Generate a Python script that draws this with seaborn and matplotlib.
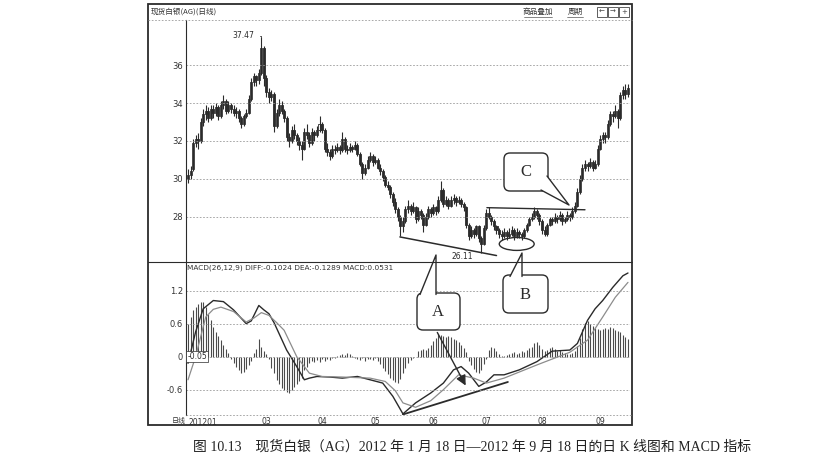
# 现货白银 日K线 + MACD
import numpy as np
import pandas as pd
import matplotlib
matplotlib.use("Agg")
import matplotlib.pyplot as plt
import seaborn as sns
from matplotlib.patches import FancyBboxPatch, Ellipse, Polygon, Rectangle

sns.set_theme(style="white")
plt.rcParams["font.family"] = ["Noto Sans CJK SC", "DejaVu Sans"]
plt.rcParams["axes.unicode_minus"] = False

# 交易日 2012-01-18 ~ 2012-09-18
dates = pd.bdate_range("2012-01-18", "2012-09-18")

open_ = [
    30.0, 30.2, 30.5, 31.9, 32.1, 32.0, 33.0, 33.4, 33.6, 33.2,
    33.7, 33.5, 33.8, 33.3, 33.9, 34.1, 33.6, 33.9, 33.7, 33.5,
    33.6, 33.2, 32.9, 33.3, 33.5, 34.2, 35.1, 35.4, 35.2, 35.6,
    36.9, 35.3, 34.6, 34.3, 34.5, 32.8, 33.5, 33.9, 33.6, 33.2,
    32.2, 32.0, 32.6, 32.3, 32.0, 31.8, 31.6, 32.5, 32.3, 31.9,
    32.5, 32.3, 32.6, 32.9, 32.6, 31.6, 31.4, 31.2, 31.6, 31.5,
    31.7, 31.5, 32.1, 31.6, 31.5, 31.7, 31.6, 31.8, 31.3, 30.8,
    30.3, 30.6, 31.0, 31.2, 30.9, 31.0, 30.6, 30.4, 30.1, 29.7,
    29.6, 29.2, 28.8, 28.4, 28.0, 27.5, 27.8, 28.4, 28.6, 28.3,
    28.5, 27.9, 28.3, 28.1, 27.6, 28.0, 28.4, 28.2, 28.5, 28.3,
    28.9, 29.4, 28.7, 28.9, 28.6, 28.9, 29.0, 28.8, 28.9, 28.7,
    28.5, 27.6, 27.0, 27.3, 27.1, 27.5, 26.9, 26.6, 27.4, 28.2,
    28.0, 27.8, 27.5, 27.3, 27.1, 27.0, 27.2, 27.0, 27.1, 27.3,
    27.0, 27.2, 27.1, 27.0, 27.3, 27.6, 27.9, 28.0, 28.3, 28.1,
    27.8, 27.3, 27.1, 27.6, 27.9, 27.8, 28.0, 27.9, 28.1, 27.8,
    27.9, 28.1, 28.0, 28.3, 28.6, 29.3, 30.0, 30.6, 30.8, 30.7,
    30.9, 30.6, 30.8, 31.6, 32.1, 32.3, 32.2, 32.9, 33.4, 33.3,
    33.6, 33.2, 34.4, 34.7, 34.5,
]
high = [
    30.5, 30.7, 32.1, 32.3, 32.4, 33.2, 33.7, 33.9, 33.8, 33.9,
    33.9, 34.0, 33.9, 34.1, 34.4, 34.2, 34.1, 34.0, 33.9, 33.8,
    33.7, 33.3, 33.4, 33.7, 34.4, 35.3, 35.6, 35.5, 35.8, 37.47,
    37.0, 35.5, 34.8, 34.7, 34.6, 33.7, 34.2, 34.1, 33.7, 33.3,
    32.4, 32.8, 32.9, 32.4, 32.2, 32.0, 32.7, 32.9, 32.5, 32.7,
    32.6, 32.8, 33.3, 33.0, 32.7, 31.9, 31.6, 31.8, 31.8, 31.9,
    31.8, 32.5, 32.2, 31.8, 31.9, 31.8, 32.0, 31.9, 31.4, 30.9,
    30.8, 31.2, 31.4, 31.3, 31.2, 31.1, 30.8, 30.5, 30.2, 29.9,
    29.7, 29.3, 29.0, 28.5, 28.1, 28.0, 28.6, 28.9, 28.7, 28.8,
    28.6, 28.5, 28.4, 28.2, 28.2, 28.6, 28.5, 28.7, 28.6, 29.1,
    29.9, 29.5, 29.1, 29.0, 29.1, 29.2, 29.1, 29.1, 29.0, 28.8,
    28.6, 27.7, 27.5, 27.4, 27.6, 27.6, 27.0, 27.6, 28.4, 28.5,
    28.1, 27.9, 27.6, 27.4, 27.3, 27.4, 27.3, 27.4, 27.5, 27.4,
    27.4, 27.3, 27.2, 27.4, 27.7, 28.0, 28.2, 28.5, 28.4, 28.2,
    27.9, 27.5, 27.7, 28.0, 28.0, 28.2, 28.1, 28.3, 28.2, 28.0,
    28.3, 28.2, 28.5, 28.8, 29.5, 30.2, 30.8, 31.0, 30.9, 31.1,
    31.0, 31.0, 31.8, 32.3, 32.5, 32.5, 33.1, 33.6, 33.6, 33.9,
    33.7, 34.6, 34.9, 35.0, 35.0,
]
low = [
    29.8, 30.0, 30.4, 31.7, 31.6, 31.9, 32.8, 33.1, 33.0, 33.1,
    33.2, 33.3, 33.1, 33.2, 33.7, 33.4, 33.5, 33.5, 33.3, 33.2,
    33.0, 32.7, 32.8, 33.2, 33.4, 34.1, 34.9, 34.9, 35.0, 35.5,
    34.9, 34.3, 34.0, 34.1, 32.5, 32.7, 33.3, 33.4, 33.0, 32.0,
    31.7, 31.9, 32.1, 31.8, 31.5, 31.0, 31.5, 32.1, 31.7, 31.8,
    32.0, 32.2, 32.5, 32.4, 31.4, 31.2, 31.0, 31.1, 31.3, 31.4,
    31.3, 31.4, 31.4, 31.3, 31.4, 31.4, 31.5, 31.2, 30.7, 30.0,
    30.2, 30.5, 30.9, 30.7, 30.8, 30.5, 30.2, 29.9, 29.6, 29.4,
    29.0, 28.6, 28.2, 27.8, 27.0, 27.2, 27.7, 28.2, 28.1, 28.2,
    27.7, 27.8, 27.9, 27.2, 27.5, 27.9, 28.0, 28.1, 28.1, 28.2,
    28.8, 28.5, 28.6, 28.4, 28.5, 28.7, 28.6, 28.7, 28.5, 28.3,
    27.4, 26.8, 26.9, 26.9, 27.0, 26.7, 26.11, 26.5, 27.3, 27.9,
    27.6, 27.3, 27.1, 26.9, 26.8, 26.9, 26.8, 26.9, 27.0, 26.8,
    26.9, 26.9, 26.8, 26.9, 27.2, 27.5, 27.8, 27.9, 27.9, 27.6,
    27.1, 27.0, 27.0, 27.5, 27.6, 27.7, 27.7, 27.8, 27.6, 27.7,
    27.8, 27.8, 27.9, 28.2, 28.5, 29.2, 29.9, 30.4, 30.4, 30.6,
    30.4, 30.5, 30.7, 31.5, 31.9, 31.9, 32.1, 32.8, 33.0, 33.2,
    32.7, 33.1, 34.2, 34.2, 34.3,
]
close = [
    30.2, 30.4, 31.9, 32.1, 32.0, 33.0, 33.4, 33.6, 33.2, 33.7,
    33.5, 33.8, 33.3, 33.9, 34.1, 33.6, 33.9, 33.7, 33.5, 33.6,
    33.2, 32.9, 33.3, 33.5, 34.2, 35.1, 35.4, 35.2, 35.6, 36.9,
    35.3, 34.6, 34.3, 34.5, 32.8, 33.5, 33.9, 33.6, 33.2, 32.2,
    32.0, 32.6, 32.3, 32.0, 31.8, 31.6, 32.5, 32.3, 31.9, 32.5,
    32.3, 32.6, 32.9, 32.6, 31.6, 31.4, 31.2, 31.6, 31.5, 31.7,
    31.5, 32.1, 31.6, 31.5, 31.7, 31.6, 31.8, 31.3, 30.8, 30.3,
    30.6, 31.0, 31.2, 30.9, 31.0, 30.6, 30.4, 30.1, 29.7, 29.6,
    29.2, 28.8, 28.4, 28.0, 27.5, 27.8, 28.4, 28.6, 28.3, 28.5,
    27.9, 28.3, 28.1, 27.6, 28.0, 28.4, 28.2, 28.5, 28.3, 28.9,
    29.4, 28.7, 28.9, 28.6, 28.9, 29.0, 28.8, 28.9, 28.7, 28.5,
    27.6, 27.0, 27.3, 27.1, 27.5, 26.9, 26.6, 27.4, 28.2, 28.0,
    27.8, 27.5, 27.3, 27.1, 27.0, 27.2, 27.0, 27.1, 27.3, 27.0,
    27.2, 27.1, 27.0, 27.3, 27.6, 27.9, 28.0, 28.3, 28.1, 27.8,
    27.3, 27.1, 27.6, 27.9, 27.8, 28.0, 27.9, 28.1, 27.8, 27.9,
    28.1, 28.0, 28.3, 28.6, 29.3, 30.0, 30.6, 30.8, 30.7, 30.9,
    30.6, 30.8, 31.6, 32.1, 32.3, 32.2, 32.9, 33.4, 33.3, 33.6,
    33.2, 34.4, 34.7, 34.5, 34.8,
]

# MACD 柱
macd_bar = [
    0.60, 0.72, 0.84, 0.90, 0.96, 0.99, 1.00, 0.90,
    0.78, 0.66, 0.54, 0.45, 0.38, 0.30, 0.22, 0.14, 0.06,
    -0.05, -0.12, -0.18, -0.24, -0.30, -0.28, -0.22, -0.15, -0.08,
    0.06, 0.14, 0.33, 0.18, 0.10, 0.04,
    -0.05, -0.20, -0.30, -0.42, -0.50, -0.57, -0.60, -0.64, -0.66, -0.60, -0.55, -0.50, -0.44, -0.38,
    -0.25, -0.18, -0.12, -0.08, -0.10, -0.06, -0.09, -0.05, -0.07, -0.04, -0.06, -0.03, -0.02,
    0.02, 0.03, 0.05, 0.03, 0.06, 0.04, 0.02, -0.02,
    -0.04, -0.06, -0.03, -0.08, -0.05, -0.04, -0.06, -0.03,
    -0.08, -0.14, -0.20, -0.26, -0.32, -0.38, -0.42, -0.46, -0.48, -0.40, -0.30,
    -0.20, -0.12, -0.06, -0.02, 0.00,
    0.10, 0.12, 0.14, 0.12, 0.16, 0.22, 0.28, 0.34, 0.42, 0.40,
    0.38, 0.36, 0.37, 0.35, 0.32, 0.30, 0.26, 0.22, 0.16, 0.08,
    -0.08, -0.16, -0.22, -0.28, -0.30, -0.24, -0.14, -0.05,
    0.12, 0.18, 0.16, 0.10, 0.04, 0.02,
    0.02, 0.03, 0.05, 0.06, 0.08, 0.05, 0.07, 0.10, 0.08, 0.12,
    0.15, 0.18, 0.24, 0.27, 0.22, 0.14, 0.10, 0.12, 0.16, 0.18,
    0.14, 0.10, 0.12, 0.08, 0.06, 0.05, 0.04, 0.06, 0.10, 0.20,
    0.34, 0.50, 0.62, 0.64, 0.60, 0.56, 0.52, 0.50, 0.48, 0.50,
    0.52, 0.50, 0.54, 0.52, 0.48, 0.46, 0.44, 0.40, 0.36, 0.32,
]

# DIFF / DEA (读点)
diff_day = [0, 3, 6, 10, 14, 18, 21, 23, 25, 28, 30, 32, 34, 36, 39, 43, 46, 48, 51, 56,
            61, 67, 72, 77, 81, 85, 90, 96, 101, 105, 108, 111, 115, 118, 121, 125, 131,
            138, 144, 151, 154, 158, 161, 164, 168, 172, 174]
diff_val = [-0.12, 0.45, 0.87, 1.02, 1.00, 0.85, 0.70, 0.60, 0.65, 0.93, 0.85, 0.78, 0.62,
            0.42, 0.12, -0.18, -0.42, -0.39, -0.36, -0.37, -0.39, -0.36, -0.42, -0.48, -0.72,
            -1.04, -0.84, -0.66, -0.48, -0.24, -0.18, -0.30, -0.54, -0.46, -0.33, -0.33, -0.24,
            -0.09, 0.10, 0.12, 0.24, 0.66, 0.87, 1.02, 1.26, 1.47, 1.52]
dea_day = [0, 3, 7, 10, 13, 18, 23, 26, 29, 32, 35, 38, 43, 48, 53, 61, 72, 78, 82, 85,
           90, 96, 101, 107, 113, 118, 125, 138, 151, 158, 164, 169, 174]
dea_val = [-0.42, 0.00, 0.72, 0.86, 0.90, 0.82, 0.63, 0.70, 0.80, 0.75, 0.62, 0.48, 0.00,
           -0.30, -0.36, -0.37, -0.39, -0.45, -0.62, -0.84, -0.92, -0.80, -0.60, -0.33, -0.39,
           -0.48, -0.39, -0.15, 0.08, 0.30, 0.72, 1.08, 1.35]

price_ticks = [28, 30, 32, 34, 36]
macd_ticks = [-0.6, 0, 0.6, 1.2]
caption = "图 10.13　现货白银（AG）2012 年 1 月 18 日—2012 年 9 月 18 日的日 K 线图和 MACD 指标"

df = pd.DataFrame({"open": open_, "high": high, "low": low, "close": close, "macd": macd_bar})
df["day"] = np.arange(len(dates))
df["up"] = df["close"] >= df["open"]

W, H = 823, 467
fig = plt.figure(figsize=(W / 100, H / 100), dpi=100)
fig.patch.set_facecolor("white")


def box(l, t, r, b):
    return [l / W, 1 - b / H, (r - l) / W, (b - t) / H]


ink = "#2b2b2b"
grid_kw = dict(color="#9a9a9a", lw=0.6, ls=(0, (2, 2)))
xlim = (-0.8, 174.8)

# ---- K线 ----
ax1 = fig.add_axes(box(186, 20, 630, 262))
ax1.set_facecolor("white")
ax1.vlines(df["day"], df["low"], df["high"], color=ink, lw=0.8)
body_lo = np.minimum(df["open"], df["close"])
body_h = np.maximum(np.abs(df["close"] - df["open"]), 0.05)
up = df["up"].values
ax1.bar(df["day"][up], body_h[up], bottom=body_lo[up], width=0.8,
        color="white", edgecolor=ink, linewidth=0.6)
ax1.bar(df["day"][~up], body_h[~up], bottom=body_lo[~up], width=0.8,
        color=ink, edgecolor=ink, linewidth=0.6)
ax1.set_xlim(*xlim)
ax1.set_ylim(25.63, 38.37)
ax1.set_yticks(price_ticks)
ax1.set_yticklabels([str(t) for t in price_ticks], fontsize=6, color="#333333",
                    family="DejaVu Sans")
ax1.tick_params(axis="y", length=0, pad=2)
ax1.set_xticks([])
for y in price_ticks:
    ax1.axhline(y, **grid_kw)
for s in ["top", "right", "bottom"]:
    ax1.spines[s].set_visible(False)
ax1.spines["left"].set_color(ink)
ax1.spines["left"].set_linewidth(0.8)

# 最高点 / 最低点
ax1.annotate("37.47", xy=(29, 37.47), xytext=(-5, 1), textcoords="offset points",
             ha="right", va="center", fontsize=5.5, color=ink, family="DejaVu Sans",
             arrowprops=dict(arrowstyle="-", color=ink, lw=0.6,
                             connectionstyle="angle,angleA=0,angleB=90"))
ax1.annotate("26.11", xy=(116, 26.11), xytext=(-14, -2.5), textcoords="offset points",
             ha="center", va="center", fontsize=5.5, color=ink, family="DejaVu Sans")

# 趋势线
ax1.plot([83.8, 122], [26.95, 25.97], color=ink, lw=1.1, clip_on=False)
ax1.plot([118.2, 157], [28.49, 28.38], color=ink, lw=1.0)
ax1.add_patch(Ellipse((130, 26.58), 13.8, 0.68, fill=False, edgecolor=ink, lw=1.0))

# ---- MACD ----
ax2 = fig.add_axes(box(186, 262, 630, 415))
ax2.set_facecolor("white")
ax2.vlines(df["day"], 0, df["macd"], color="#4a4a4a", lw=0.8)
sns.lineplot(x=diff_day, y=diff_val, ax=ax2, color="#2a2a2a", lw=1.0, sort=False)
sns.lineplot(x=dea_day, y=dea_val, ax=ax2, color="#8c8c8c", lw=0.9, sort=False)
ax2.plot([85, 126.5], [-1.05, -0.46], color=ink, lw=1.3)
ax2.set_xlim(*xlim)
ax2.set_ylim(-1.06, 1.72)
ax2.set_yticks(macd_ticks)
ax2.set_yticklabels(["-0.6", "0", "0.6", "1.2"], fontsize=6, color="#333333",
                    family="DejaVu Sans")
ax2.tick_params(axis="y", length=0, pad=2)
for y in macd_ticks + [1.72]:
    ax2.axhline(y, **grid_kw)
for s in ["top", "right", "bottom"]:
    ax2.spines[s].set_visible(False)
ax2.spines["left"].set_color(ink)
ax2.spines["left"].set_linewidth(0.8)
ax2.set_xlabel("")
ax2.set_ylabel("")

# 月份刻度
month_idx = [i for i in range(1, len(dates)) if dates[i].month != dates[i - 1].month]
month_idx = [i for i in month_idx if dates[i].month >= 3]
ax2.set_xticks(month_idx)
ax2.set_xticklabels([f"{dates[i].month:02d}" for i in month_idx], fontsize=5.5,
                    color="#333333", family="DejaVu Sans")
ax2.tick_params(axis="x", length=0, pad=1.5)
ax2.text(0.3, -0.02, "201201", transform=ax2.get_xaxis_transform(), ha="left",
         va="top", fontsize=5.5, color="#333333", family="DejaVu Sans")
ax2.text(-0.3, 0, "-0.05", ha="left", va="center", fontsize=5.5, color=ink,
         family="DejaVu Sans",
         bbox=dict(boxstyle="square,pad=0.15", fc="white", ec=ink, lw=0.5))
ax2.text(0.002, 0.985, "MACD(26,12,9) DIFF:-0.1024 DEA:-0.1289 MACD:0.0531",
         transform=ax2.transAxes, ha="left", va="top", fontsize=5.3, color="#333333",
         family="DejaVu Sans")

# ---- 外框、标题栏、标注 ----
ov = fig.add_axes([0, 0, 1, 1], zorder=10)
ov.set_xlim(0, W)
ov.set_ylim(H, 0)
ov.axis("off")
ov.patch.set_alpha(0)

ov.add_patch(Rectangle((148, 4), 484, 421, fill=False, ec=ink, lw=1.3))
ov.plot([148, 632], [262, 262], color=ink, lw=0.8)
ov.plot([148, 632], [20, 20], **grid_kw)
ov.plot([186, 632], [415, 415], **grid_kw)
ov.text(151, 12, "现货白银(AG)(日线)", fontsize=5.5, va="center", color="#333333")
ov.text(172, 420.5, "日线", fontsize=5, va="center", color="#333333")
ov.text(538, 12, "商品叠加", fontsize=5.5, va="center", ha="center", color="#333333")
ov.plot([524, 552], [17, 17], color="#555555", lw=0.5)
ov.text(575, 12, "周期", fontsize=5.5, va="center", ha="center", color="#333333")
ov.plot([567, 583], [17, 17], color="#555555", lw=0.5)
for bx, sym in zip([597, 608, 619], ["←", "→", "+"]):
    ov.add_patch(Rectangle((bx, 7), 10, 10, fill=False, ec="#444444", lw=0.6))
    ov.text(bx + 5, 12, sym, fontsize=5, ha="center", va="center", color="#444444",
            family="DejaVu Sans")


def callout(l, t, r, b, base, tip, label, label_xy):
    ov.add_patch(FancyBboxPatch((l, t), r - l, b - t, boxstyle="round,pad=0,rounding_size=6",
                                fc="white", ec=ink, lw=1.0))
    ov.add_patch(Polygon([base[0], tip, base[1]], closed=True, fc="white", ec="none"))
    ov.plot([base[0][0], tip[0], base[1][0]], [base[0][1], tip[1], base[1][1]],
            color=ink, lw=1.0)
    ov.text(label_xy[0], label_xy[1], label, fontsize=12, ha="center", va="center",
            family="Liberation Serif", color=ink)


callout(417, 293, 460, 330, [(420, 294.5), (436, 294.5)], (436, 255), "A", (438, 312))
callout(503, 275, 548, 313, [(510, 276.5), (522, 276.5)], (522, 253), "B", (525, 295))
callout(504, 153, 548, 191, [(547, 176), (541, 190)], (569, 205), "C", (526, 172))
ov.annotate("", xy=(467, 388), xytext=(436, 330),
            arrowprops=dict(arrowstyle="-|>,head_length=0.5,head_width=0.25",
                            color=ink, lw=1.0))

fig.text(193 / W, 1 - 447 / H, caption, ha="left", va="center", fontsize=10,
         family=["Liberation Serif", "Noto Sans CJK SC"], color="#222222")

fig.savefig("out.png", dpi=100)
